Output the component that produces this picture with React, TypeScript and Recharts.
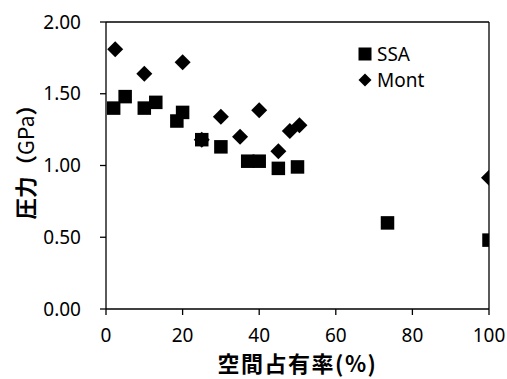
import React from 'react';
import {
  ScatterChart,
  Scatter,
  XAxis,
  YAxis,
  ReferenceLine,
  Legend,
  Label,
} from 'recharts';

const ssaX = [2, 5, 10, 13, 18.5, 20, 25, 30, 37, 40, 45, 50, 73.5, 100];
const ssaY = [1.4, 1.48, 1.4, 1.44, 1.31, 1.37, 1.18, 1.13, 1.03, 1.03, 0.98, 0.99, 0.6, 0.48];

const montX = [2.4, 10, 20, 25, 30, 35, 40, 45, 48, 50.5, 100];
const montY = [1.81, 1.64, 1.72, 1.18, 1.34, 1.2, 1.385, 1.1, 1.24, 1.28, 0.915];

const xTicks = [0, 20, 40, 60, 80, 100];
const yTicks = [0, 0.5, 1, 1.5, 2];

const seriesNames = ['SSA', 'Mont'];
const xTitle = '空間占有率(%)';
const yTitleMain = '圧力（';
const yTitleUnit = 'GPa';
const yTitleEnd = '）';

const ssaData = ssaX.map((x, i) => ({ x, y: ssaY[i] }));
const montData = montX.map((x, i) => ({ x, y: montY[i] }));

const SquareShape = (props: any) => {
  const { cx, cy } = props;
  if (cx == null || cy == null) return null;
  const s = 13.5;
  return <rect x={cx - s / 2} y={cy - s / 2} width={s} height={s} fill="#000" />;
};

const DiamondShape = (props: any) => {
  const { cx, cy } = props;
  if (cx == null || cy == null) return null;
  const h = 8;
  return (
    <polygon
      points={`${cx},${cy - h} ${cx + h},${cy} ${cx},${cy + h} ${cx - h},${cy}`}
      fill="#000"
    />
  );
};

const tickFont = { fontFamily: 'Noto Sans', fontSize: 19, fill: '#000' };

const titleStyle = {
  fontFamily: 'Noto Sans CJK JP',
  fontWeight: 'bold',
  fontSize: 22,
  fill: '#000',
  letterSpacing: '1.5px',
};

const YTitle = (props: any) => {
  const vb = props.viewBox || { x: 0, y: 22, width: 106, height: 287 };
  const cx = 24;
  const bottom = vb.y + vb.height / 2 + 54;
  return (
    <text
      x={cx}
      y={bottom}
      transform={`rotate(-90, ${cx}, ${bottom})`}
      textAnchor="start"
      dominantBaseline="central"
      fontFamily="Noto Sans CJK JP"
      fontSize={21.5}
      fill="#000"
    >
      <tspan fontWeight="bold">{yTitleMain}</tspan>
      <tspan fontWeight="normal">{yTitleUnit}</tspan>
      <tspan fontWeight="bold">{yTitleEnd}</tspan>
    </text>
  );
};

const LegendContent = () => (
  <div style={{ fontFamily: 'Noto Sans', fontSize: 19, lineHeight: '26px', color: '#000' }}>
    <div style={{ display: 'flex', alignItems: 'center' }}>
      <svg width={14} height={14} style={{ display: 'block' }}>
        <rect x={0.5} y={0.5} width={13} height={13} fill="#000" />
      </svg>
      <span style={{ marginLeft: 5 }}>{seriesNames[0]}</span>
    </div>
    <div style={{ display: 'flex', alignItems: 'center' }}>
      <svg width={14} height={14} style={{ display: 'block' }}>
        <polygon points="7,0.5 13.5,7 7,13.5 0.5,7" fill="#000" />
      </svg>
      <span style={{ marginLeft: 5 }}>{seriesNames[1]}</span>
    </div>
  </div>
);

export default function App() {
  return (
    <div style={{ position: 'absolute', left: 0, top: 0, background: '#fff' }}>
      <ScatterChart
        width={507}
        height={379}
        margin={{ top: 22, right: 18, bottom: 0, left: 0 }}
      >
        <XAxis
          type="number"
          dataKey="x"
          domain={[0, 100]}
          ticks={xTicks}
          allowDataOverflow
          height={70}
          tick={tickFont}
          tickSize={6}
          tickMargin={14}
          axisLine={{ stroke: '#000', strokeWidth: 1.3 }}
          tickLine={{ stroke: '#000', strokeWidth: 1.3 }}
          label={{
            value: xTitle,
            position: 'insideBottom',
            offset: 7,
            style: titleStyle,
          }}
        />
        <YAxis
          type="number"
          dataKey="y"
          domain={[0, 2]}
          ticks={yTicks}
          allowDataOverflow
          width={106}
          tick={tickFont}
          tickFormatter={(v: number) => v.toFixed(2)}
          tickSize={6}
          tickMargin={19}
          axisLine={{ stroke: '#000', strokeWidth: 1.3 }}
          tickLine={{ stroke: '#000', strokeWidth: 1.3 }}
        >
          <Label content={<YTitle />} />
        </YAxis>
        <ReferenceLine y={2} stroke="#000" strokeWidth={1.3} ifOverflow="visible" />
        <ReferenceLine x={100} stroke="#000" strokeWidth={1.3} ifOverflow="visible" />
        <Legend
          layout="vertical"
          verticalAlign="middle"
          align="center"
          content={<LegendContent />}
          wrapperStyle={{ left: 358, top: 41, width: 120, right: 'auto', bottom: 'auto' }}
        />
        <Scatter
          name={seriesNames[0]}
          data={ssaData}
          shape={<SquareShape />}
          isAnimationActive={false}
        />
        <Scatter
          name={seriesNames[1]}
          data={montData}
          shape={<DiamondShape />}
          isAnimationActive={false}
        />
      </ScatterChart>
    </div>
  );
}
